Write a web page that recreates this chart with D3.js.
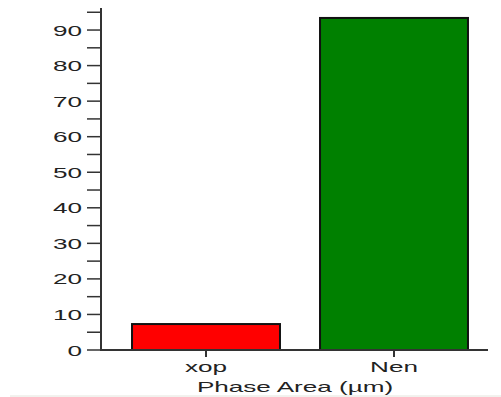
<!DOCTYPE html>
<html>
<head>
<meta charset="utf-8">
<script src="https://cdn.jsdelivr.net/npm/d3@7"></script>
<style>
body { margin: 0; background: #fff; }
text { font-family: "Liberation Sans", Arial, sans-serif; }
</style>
</head>
<body>
<div id="chart"></div>
<script>
// chart values
var categories = ["xop", "Nen"];
var values = [7.3, 93.4];
var barColors = ["#ff0000", "#008000"];
var yTicks = [0, 10, 20, 30, 40, 50, 60, 70, 80, 90];
var yMinorTicks = [5, 15, 25, 35, 45, 55, 65, 75, 85, 95];
var xAxisTitle = "Phase Area (\u00b5m)";

var outerWidth = 501, outerHeight = 397;
var stretch = 1.74; // text in the picture is stretched sideways

var svg = d3.select("#chart").append("svg")
  .attr("width", outerWidth)
  .attr("height", outerHeight);

var x = d3.scaleBand().domain(categories).range([112, 488]).padding(0);
var y = d3.scaleLinear().domain([0, 96.2]).range([350, 8]);
var barW = x.bandwidth() * 0.787;

// faint line at the bottom of the picture
svg.append("line")
  .attr("x1", 10).attr("x2", 501).attr("y1", 396).attr("y2", 396)
  .attr("stroke", "#e4e4dc").attr("stroke-width", 1);

// bars
svg.selectAll("rect.bar")
  .data(values)
  .enter()
  .append("rect")
  .attr("class", "bar")
  .attr("x", (d, i) => x(categories[i]) + (x.bandwidth() - barW) / 2)
  .attr("y", d => y(d))
  .attr("width", barW)
  .attr("height", d => y(0) - y(d))
  .attr("fill", (d, i) => barColors[i])
  .attr("stroke", "#111")
  .attr("stroke-width", 2);

// y axis line and ticks
var axisColor = "#333";
svg.append("line")
  .attr("x1", 101).attr("x2", 101).attr("y1", y(96.2)).attr("y2", y(0) + 1)
  .attr("stroke", axisColor).attr("stroke-width", 2);
svg.selectAll("line.ytick")
  .data(yTicks.concat(yMinorTicks))
  .enter()
  .append("line")
  .attr("class", "ytick")
  .attr("x1", 87).attr("x2", 101)
  .attr("y1", d => y(d)).attr("y2", d => y(d))
  .attr("stroke", axisColor).attr("stroke-width", 1.5);
svg.selectAll("text.ylab")
  .data(yTicks)
  .enter()
  .append("text")
  .attr("class", "ylab")
  .attr("transform", d => "translate(82," + (y(d) + 5.5) + ") scale(" + stretch + ",1)")
  .attr("text-anchor", "end")
  .style("font-size", "15px")
  .attr("fill", "#222")
  .text(d => d);

// x axis line and ticks
svg.append("line")
  .attr("x1", 100).attr("x2", 488).attr("y1", y(0)).attr("y2", y(0))
  .attr("stroke", axisColor).attr("stroke-width", 2);
svg.selectAll("line.xtick")
  .data(categories)
  .enter()
  .append("line")
  .attr("class", "xtick")
  .attr("x1", d => x(d) + x.bandwidth() / 2).attr("x2", d => x(d) + x.bandwidth() / 2)
  .attr("y1", y(0)).attr("y2", y(0) + 7)
  .attr("stroke", axisColor).attr("stroke-width", 2);
svg.selectAll("text.xlab")
  .data(categories)
  .enter()
  .append("text")
  .attr("class", "xlab")
  .attr("transform", d => "translate(" + (x(d) + x.bandwidth() / 2) + ",372) scale(" + stretch + ",1)")
  .attr("text-anchor", "middle")
  .style("font-size", "15px")
  .attr("fill", "#222")
  .text(d => d);

// axis title
svg.append("text")
  .attr("transform", "translate(295,392) scale(" + stretch + ",1)")
  .attr("text-anchor", "middle")
  .style("font-size", "15px")
  .attr("fill", "#222")
  .text(xAxisTitle);
</script>
</body>
</html>
